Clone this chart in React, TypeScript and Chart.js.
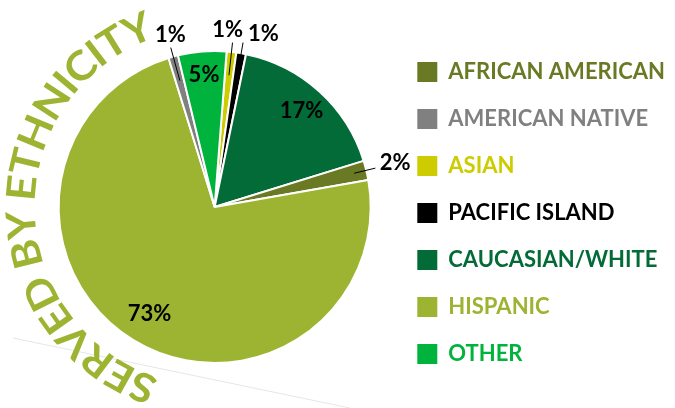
import React, { useEffect, useRef } from "react";
import { Chart, registerables } from "chart.js";

Chart.register(...registerables);

// Slices in clockwise order, starting just right of 12 o'clock
const categories = ["ASIAN", "PACIFIC ISLAND", "CAUCASIAN/WHITE", "AFRICAN AMERICAN", "HISPANIC", "AMERICAN NATIVE", "OTHER"];
const values = [1, 1, 17, 2, 73, 1, 5];
const colors = ["#CCCC00", "#000000", "#036B37", "#6A7A24", "#9DB433", "#808080", "#00B33C"];
const legendOrder = ["AFRICAN AMERICAN", "AMERICAN NATIVE", "ASIAN", "PACIFIC ISLAND", "CAUCASIAN/WHITE", "HISPANIC", "OTHER"];
const titleText = "SERVED BY ETHNICITY";

// label placement: inside labels use radius factor; outside ones have leader lines
type Place = { tr: number; ta: number; l0?: number; l1?: number };
const placements: Place[] = [
  { tr: 1.14, ta: -2, l0: 0.85, l1: 1.06 },
  { tr: 1.15, ta: 6, l0: 0.96, l1: 1.07 },
  { tr: 0.83, ta: 0 },
  { tr: 1.19, ta: 0, l0: 0.92, l1: 1.06 },
  { tr: 0.8, ta: 0 },
  { tr: 1.14, ta: 1, l0: 0.84, l1: 1.06 },
  { tr: 0.85, ta: 0 },
];

const FONT = "Lato, 'Open Sans', sans-serif";

const decorPlugin = {
  id: "decor",
  beforeDatasetsDraw(chart: any) {
    const ctx = chart.ctx;
    ctx.save();
    ctx.strokeStyle = "#E6E6E6";
    ctx.lineWidth = 1;
    ctx.beginPath();
    ctx.moveTo(13, 338);
    ctx.lineTo(350, 408);
    ctx.stroke();
    ctx.restore();
  },
  afterDatasetsDraw(chart: any) {
    const ctx = chart.ctx;
    const meta = chart.getDatasetMeta(0);
    const total = values.reduce((a, b) => a + b, 0);
    ctx.save();
    ctx.font = "bold 22px Lato";
    ctx.fillStyle = "#000";
    ctx.textAlign = "center";
    ctx.textBaseline = "middle";
    meta.data.forEach((arc: any, i: number) => {
      const { x, y, startAngle, endAngle, outerRadius } = arc.getProps(["x", "y", "startAngle", "endAngle", "outerRadius"], true);
      const mid = (startAngle + endAngle) / 2;
      const p = placements[i];
      const ta = mid + (p.ta * Math.PI) / 180;
      const tx = x + Math.cos(ta) * outerRadius * p.tr;
      const ty = y + Math.sin(ta) * outerRadius * p.tr;
      const pct = Math.round((values[i] / total) * 100) + "%";
      if (p.l0 !== undefined && p.l1 !== undefined) {
        ctx.strokeStyle = "#000";
        ctx.lineWidth = 1;
        ctx.beginPath();
        ctx.moveTo(x + Math.cos(mid) * outerRadius * p.l0, y + Math.sin(mid) * outerRadius * p.l0);
        ctx.lineTo(x + Math.cos(mid) * outerRadius * p.l1, y + Math.sin(mid) * outerRadius * p.l1);
        ctx.stroke();
      }
      ctx.fillText(pct, tx, ty);
    });

    // curved title along the left arc (letters slightly stretched, WordArt style)
    const first: any = meta.data[0];
    const cx = first.x;
    const cy = first.y;
    const rBase = 180;
    const stretch = 1.1;
    const startA = (108 * Math.PI) / 180;
    const endA = (251 * Math.PI) / 180;
    ctx.font = "bold 40px Lato";
    ctx.fillStyle = "#9DB433";
    ctx.textAlign = "center";
    ctx.textBaseline = "alphabetic";
    const chars = [...titleText];
    const widths = chars.map((c) => ctx.measureText(c).width * stretch);
    const sum = widths.reduce((a, b) => a + b, 0);
    const arcLen = (endA - startA) * rBase;
    const extra = (arcLen - sum) / (chars.length - 1);
    let s = 0;
    chars.forEach((c, i) => {
      const a = startA + (s + widths[i] / 2) / rBase;
      ctx.save();
      ctx.translate(cx + Math.cos(a) * rBase, cy + Math.sin(a) * rBase);
      ctx.rotate(a + Math.PI / 2);
      ctx.scale(stretch, 1);
      ctx.fillText(c, 0, 0);
      ctx.restore();
      s += widths[i] + extra;
    });
    ctx.restore();
  },
};

export default function App() {
  const ref = useRef<HTMLCanvasElement | null>(null);
  useEffect(() => {
    if (!ref.current) return;
    const chart = new Chart(ref.current, {
      type: "pie",
      data: {
        labels: categories,
        datasets: [
          {
            data: values,
            backgroundColor: colors,
            borderColor: "#FFFFFF",
            borderWidth: 2,
          },
        ],
      },
      options: {
        animation: false,
        responsive: false,
        rotation: 4.4,
        layout: { padding: { left: 37, top: 18, bottom: 0, right: 0 } },
        plugins: {
          tooltip: { enabled: false },
          title: {
            display: true,
            text: " ",
            position: "top",
            fullSize: false,
            font: { size: 10, lineHeight: 1 },
            padding: { top: 22, bottom: 0 },
          },
          subtitle: {
            display: true,
            text: " ",
            position: "bottom",
            fullSize: false,
            font: { size: 10, lineHeight: 1 },
            padding: { top: 34, bottom: 0 },
          },
          legend: {
            position: "right",
            align: "center",
            labels: {
              boxWidth: 20,
              boxHeight: 20,
              padding: 25,
              font: { family: FONT, size: 22, weight: "bold" },
              generateLabels: (ch: any) => {
                const items = (Chart as any).overrides.pie.plugins.legend.labels.generateLabels(ch);
                return items.map((it: any) => ({
                  ...it,
                  fontColor: it.fillStyle,
                  strokeStyle: it.fillStyle,
                  lineWidth: 0,
                }));
              },
              sort: (a: any, b: any) => legendOrder.indexOf(a.text) - legendOrder.indexOf(b.text),
            },
          },
        },
      } as any,
      plugins: [decorPlugin],
    });
    return () => chart.destroy();
  }, []);
  return (
    <div style={{ position: "absolute", left: 0, top: 0, width: 675, height: 408, background: "#fff" }}>
      <canvas ref={ref} width={675} height={408} />
    </div>
  );
}
